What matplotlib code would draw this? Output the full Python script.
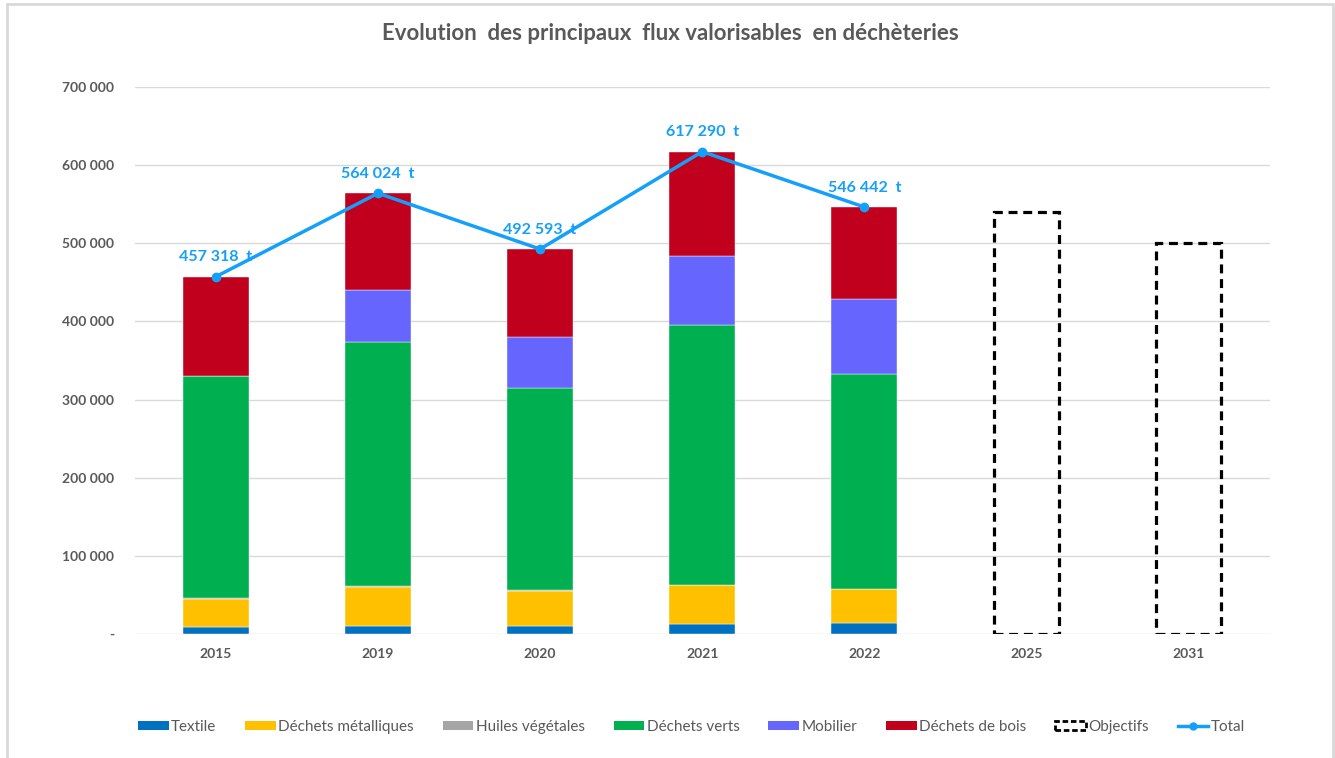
import matplotlib
matplotlib.use("Agg")
import matplotlib.pyplot as plt
from matplotlib.patches import Patch, Rectangle
from matplotlib.lines import Line2D
from matplotlib.ticker import FuncFormatter

plt.rcParams['font.family'] = ['Lato', 'DejaVu Sans']

# DATA
years = ['2015', '2019', '2020', '2021', '2022']
years_obj = ['2025', '2031']
all_years = years + years_obj

textile = [8500, 10600, 10600, 12400, 13700]
metal = [36500, 49500, 44800, 49800, 43500]
huiles = [1000, 900, 900, 800, 800]
verts = [284000, 312400, 257900, 333000, 274500]
mobilier = [0, 66800, 65600, 88000, 96200]
bois = [127300, 123800, 112800, 133300, 117700]
totals = [457318, 564024, 492593, 617290, 546442]
objectifs = [540000, 500000]

series = [
    ('Textile', textile, '#0070C0'),
    ('Déchets métalliques', metal, '#FFC000'),
    ('Huiles végétales', huiles, '#A5A5A5'),
    ('Déchets verts', verts, '#00B050'),
    ('Mobilier', mobilier, '#6666FF'),
    ('Déchets de bois', bois, '#C0001D'),
]
GREY = '#595959'
LINE = '#14A0FA'

fig = plt.figure(figsize=(13.35, 7.58), dpi=100)
ax = fig.add_axes([0.101, 0.1636, 0.850, 0.7216])

x = list(range(len(years)))
x_obj = [len(years) + i for i in range(len(years_obj))]
width = 0.405

bottom = [0] * len(years)
handles = []
for name, vals, col in series:
    ax.bar(x, vals, width, bottom=bottom, color=col, edgecolor='white',
           linewidth=0.3, zorder=2)
    bottom = [b + v for b, v in zip(bottom, vals)]
    handles.append(Patch(facecolor=col, label=name))

# objectifs, dashed outline
ax.bar(x_obj, objectifs, width, fill=False, edgecolor='black',
       linewidth=2.3, linestyle=(0, (2.8, 1.8)), zorder=2)
handles.append(Patch(facecolor='none', edgecolor='black', linewidth=2,
                     linestyle=(0, (2, 1)), label='Objectifs'))

# total line
ax.plot(x, totals, color=LINE, linewidth=2.5, marker='o', markersize=6,
        zorder=4)
handles.append(Line2D([0], [0], color=LINE, linewidth=2.5, marker='o',
                      markersize=5, label='Total'))
for xi, t in zip(x, totals):
    lbl = '{:,}'.format(t).replace(',', ' ') + '  t'
    ax.annotate(lbl, (xi, t), xytext=(0, 9), textcoords='offset points',
                ha='center', va='bottom', color=LINE, fontsize=11.5,
                fontweight='bold', zorder=5)

ax.set_xlim(-0.5, len(all_years) - 0.5)
ax.set_ylim(0, 700000)
ax.set_yticks(range(0, 700001, 100000))
ax.yaxis.set_major_formatter(FuncFormatter(
    lambda v, p: '-' if v == 0 else '{:,.0f}'.format(v).replace(',', ' ')))
ax.set_xticks(range(len(all_years)))
ax.set_xticklabels(all_years)
ax.tick_params(axis='both', length=0, labelsize=10, labelcolor=GREY)
ax.tick_params(axis='y', pad=15)
ax.tick_params(axis='x', pad=10)
for lab in ax.get_xticklabels() + ax.get_yticklabels():
    lab.set_fontweight('bold')
ax.grid(axis='y', color='#D9D9D9', linewidth=1, zorder=0)
ax.set_axisbelow(True)
for s in ax.spines.values():
    s.set_visible(False)

fig.text(0.5025, 0.956, 'Evolution  des principaux  flux valorisables  en déchèteries',
         ha='center', va='center', fontsize=16, fontweight='bold', color=GREY)

fig.legend(handles=handles, loc='center', bbox_to_anchor=(0.518, 0.041),
           ncol=8, frameon=False, fontsize=11, labelcolor=GREY,
           handlelength=2.0, handleheight=0.6, handletextpad=0.15,
           columnspacing=1.9)

# chart area border
fig.patches.append(Rectangle((7 / 1335, -0.05), 1326 / 1335, 1.05 - 4 / 758,
                             transform=fig.transFigure, fill=False,
                             edgecolor='#D9D9D9', linewidth=2))

fig.savefig('out.png', dpi=100)
